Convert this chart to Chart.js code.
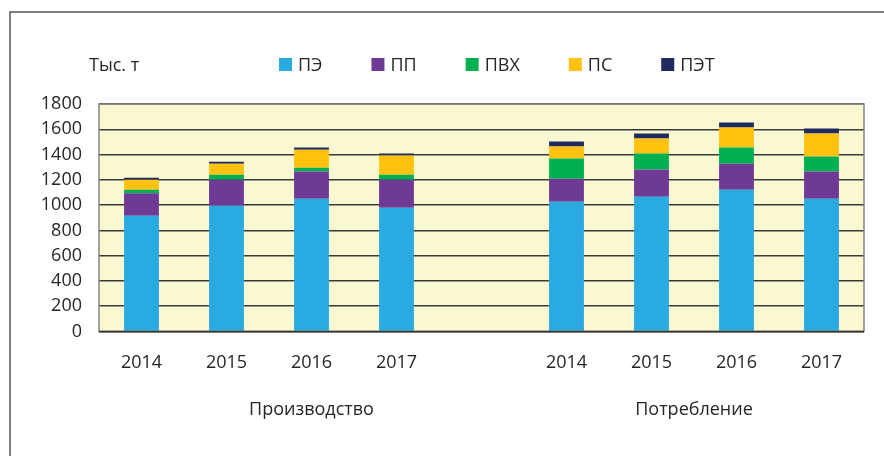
<!DOCTYPE html>
<html>
<head>
<meta charset="utf-8">
<script src="https://cdn.jsdelivr.net/npm/chart.js@4.4.1/dist/chart.umd.min.js"></script>
<style>
  html, body { margin: 0; padding: 0; background: #fff; }
  #wrap { width: 884px; height: 456px; position: relative; }
</style>
</head>
<body>
<div id="wrap"><canvas id="chart"></canvas></div>
<script>
// Categories: two groups of years with an empty slot between them
const years = ['2014', '2015', '2016', '2017', '', '2014', '2015', '2016', '2017'];
const groupNames = ['Производство', 'Потребление'];
const unitLabel = 'Тыс. т';

// Series values, thousand tonnes
const pe  = [916, 995, 1051, 979, null, 1027, 1067, 1122, 1051];
const pp  = [177, 206, 214, 222, null, 182, 214, 206, 214];
const pvc = [29, 40, 31, 40, null, 159, 127, 127, 119];
const ps  = [79, 87, 143, 151, null, 95, 119, 159, 182];
const pet = [16, 16, 16, 16, null, 40, 39, 39, 40];

const seriesNames = ['ПЭ', 'ПП', 'ПВХ', 'ПС', 'ПЭТ'];
const seriesColors = ['#29abe2', '#6f3a96', '#00b050', '#ffc20e', '#1f2a5e'];

const FONT = '"Open Sans", "Noto Sans", sans-serif';
const TEXT = '#262626';

// Background, frame, legend and group captions
const decorPlugin = {
  id: 'decor',
  beforeDraw: (chart) => {
    const ctx = chart.ctx;
    const a = chart.chartArea;
    ctx.save();
    ctx.fillStyle = '#fff';
    ctx.fillRect(0, 0, chart.width, chart.height);
    // outer frame, runs off the right and bottom edges
    ctx.strokeStyle = '#555';
    ctx.lineWidth = 1.5;
    ctx.strokeRect(10, 12, chart.width + 20, chart.height + 20);
    // plot background
    ctx.fillStyle = '#faf8d0';
    ctx.fillRect(a.left, a.top, a.right - a.left, a.bottom - a.top);
    ctx.restore();
  },
  afterDraw: (chart) => {
    const ctx = chart.ctx;
    const a = chart.chartArea;
    const x = chart.scales.x;
    ctx.save();
    // plot border
    ctx.strokeStyle = '#858585';
    ctx.lineWidth = 1.5;
    ctx.strokeRect(a.left, a.top, a.right - a.left, a.bottom - a.top);
    ctx.strokeStyle = '#333';
    ctx.beginPath();
    ctx.moveTo(a.left, a.bottom);
    ctx.lineTo(a.right, a.bottom);
    ctx.stroke();

    ctx.font = '18px ' + FONT;
    ctx.fillStyle = TEXT;
    ctx.textBaseline = 'middle';
    ctx.textAlign = 'left';

    // unit label
    ctx.fillText(unitLabel, 89, 66);

    // legend
    let lx = 279;
    chart.data.datasets.forEach((ds) => {
      ctx.fillStyle = ds.backgroundColor;
      ctx.fillRect(lx, 58, 13, 13);
      ctx.fillStyle = TEXT;
      ctx.fillText(ds.label, lx + 19, 66);
      lx += 19 + ctx.measureText(ds.label).width + 49;
    });

    // group captions
    ctx.textAlign = 'center';
    ctx.fillText(groupNames[0], x.getPixelForValue(2), 410);
    ctx.fillText(groupNames[1], (x.getPixelForValue(6) + x.getPixelForValue(7)) / 2, 410);
    ctx.restore();
  }
};

const values = [pe, pp, pvc, ps, pet];
const datasets = values.map((v, i) => ({
  label: seriesNames[i],
  data: v,
  backgroundColor: seriesColors[i],
  borderWidth: 0,
  categoryPercentage: 1,
  barPercentage: 0.41
}));

new Chart(document.getElementById('chart'), {
  type: 'bar',
  data: { labels: years, datasets },
  options: {
    responsive: true,
    maintainAspectRatio: false,
    animation: false,
    layout: { padding: { top: 104, left: 0, right: 20, bottom: 81 } },
    plugins: {
      legend: { display: false },
      tooltip: { enabled: false }
    },
    scales: {
      x: {
        stacked: true,
        grid: { display: false, drawTicks: false },
        border: { display: false },
        ticks: { color: TEXT, font: { family: FONT, size: 18 }, padding: 21, maxRotation: 0, autoSkip: false },
        afterFit: (s) => { s.height = 43.5; }
      },
      y: {
        stacked: true,
        min: 0,
        max: 1800,
        grid: { color: '#3a3a3a', lineWidth: 1.5, drawTicks: false },
        border: { display: false },
        ticks: {
          stepSize: 200,
          color: TEXT,
          font: { family: FONT, size: 18 },
          padding: 17,
          callback: (v) => String(v) // no thousands separator
        },
        afterFit: (s) => { s.width = 99; }
      }
    }
  },
  plugins: [decorPlugin]
});
</script>
</body>
</html>
